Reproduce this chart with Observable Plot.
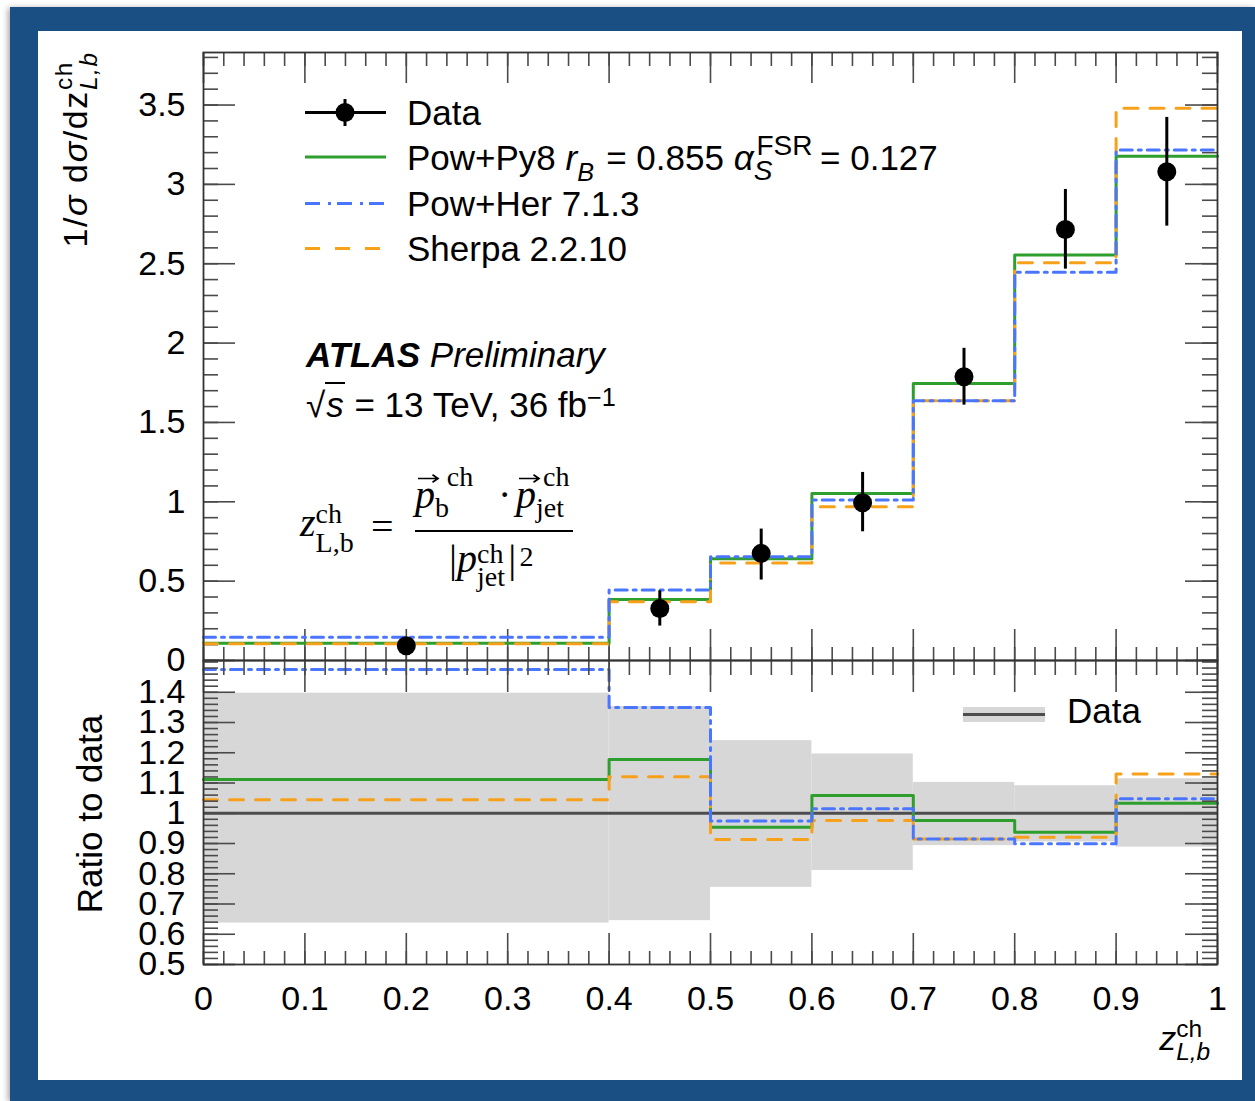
<!DOCTYPE html>
<html>
<head>
<meta charset="utf-8">
<script src="https://cdn.jsdelivr.net/npm/d3@7"></script>
<script src="https://cdn.jsdelivr.net/npm/@observablehq/plot@0.6"></script>
<style>
  html, body { margin:0; padding:0; background:#fff; }
  #page { position:relative; width:1255px; height:1101px; overflow:hidden; font-family:"Liberation Sans", Arial, Helvetica, sans-serif; color:#000; }
  #frame { position:absolute; left:10px; top:7px; width:1245px; height:1094px; background:#1a4f84; box-shadow:-2px 1px 6px rgba(0,0,0,0.35); }
  #panel { position:absolute; left:38px; top:31px; width:1204px; height:1049px; background:#fff; }
  .pw { position:absolute; left:40px; width:1198px; }
  .t { position:absolute; white-space:nowrap; line-height:1; }
  .serif { font-family:"Liberation Serif", "Times New Roman", serif; }
  .scr { display:inline-block; position:relative; height:0.7em; vertical-align:baseline; }
  .scr > span { position:absolute; left:0; line-height:0.8; white-space:nowrap; }
  .vec { position:relative; display:inline-block; }
  .vec svg { position:absolute; left:0.08em; top:-0.04em; overflow:visible; }
  .rot { position:absolute; white-space:nowrap; line-height:1; transform:translate(-50%,-50%) rotate(-90deg); }
</style>
</head>
<body>
<div id="page">
  <div id="frame"></div>
  <div id="panel"></div>
</div>
<script>
// ---------------- data ----------------
const binLo = [0, 0.4, 0.5, 0.6, 0.7, 0.8, 0.9];
const binHi = [0.4, 0.5, 0.6, 0.7, 0.8, 0.9, 1.0];

const dataVal  = [0.093, 0.328, 0.675, 0.994, 1.788, 2.716, 3.080];
const dataLow  = [0.058, 0.217, 0.507, 0.811, 1.609, 2.466, 2.737];
const dataHigh = [0.128, 0.439, 0.828, 1.185, 1.967, 2.968, 3.422];

const powPy8 = [0.108, 0.385, 0.641, 1.053, 1.746, 2.555, 3.178];
const powHer = [0.146, 0.444, 0.653, 1.011, 1.636, 2.447, 3.216];
const sherpa = [0.105, 0.370, 0.614, 0.969, 1.636, 2.506, 3.479];

const ratioPowPy8 = [1.112, 1.178, 0.954, 1.059, 0.976, 0.937, 1.033];
const ratioPowHer = [1.475, 1.350, 0.974, 1.015, 0.915, 0.899, 1.048];
const ratioSherpa = [1.045, 1.121, 0.913, 0.976, 0.915, 0.921, 1.130];
const bandLow  = [0.637, 0.645, 0.755, 0.811, 0.893, 0.905, 0.888];
const bandHigh = [1.397, 1.353, 1.240, 1.196, 1.102, 1.091, 1.114];

const xTickLabels = [0, 0.1, 0.2, 0.3, 0.4, 0.5, 0.6, 0.7, 0.8, 0.9, 1];
const yTickLabelsUpper = [0, 0.5, 1, 1.5, 2, 2.5, 3, 3.5];
const yTickLabelsRatio = [0.5, 0.6, 0.7, 0.8, 0.9, 1, 1.1, 1.2, 1.3, 1.4];

// ---------------- style ----------------
const FONT = '"Liberation Sans", Arial, Helvetica, sans-serif';
const GREEN = "#2e9e2e", BLUE = "#4a76ff", ORANGE = "#f7a11a";
const DASH_BLUE = "12,6,3,6", DASH_ORANGE = "14,12";
const TICK = "#4a4a4a";
const fmt = d => String(+(+d).toFixed(2));
const rnd = v => +v.toFixed(3);

const xMinor = d3.range(0, 51).map(i => rnd(i * 0.02));
const yMinorUpper = d3.range(0, 39).map(i => rnd(i * 0.1));
const yMinorRatio = d3.range(0, 51).map(i => rnd(0.5 + i * 0.02));

const PW = 1014;           // plot frame width (px)
const PH_UP = 608, PH_LO = 304;

function frameTicks(xMaj, xMin, yMaj, yMin, ph, L) {
  const st = {stroke: TICK, strokeWidth: 1.6};
  return [
    Plot.tickX(xMin, {x: d => d, insetBottom: ph - L.xMinTop, ...st}),
    Plot.tickX(xMaj, {x: d => d, insetBottom: ph - L.xMajTop, ...st}),
    Plot.tickX(xMin, {x: d => d, insetTop: ph - L.xMinBot, ...st}),
    Plot.tickX(xMaj, {x: d => d, insetTop: ph - L.xMajBot, ...st}),
    Plot.tickY(yMin, {y: d => d, insetRight: PW - L.yMin, ...st}),
    Plot.tickY(yMaj, {y: d => d, insetRight: PW - L.yMaj, ...st}),
    Plot.tickY(yMin, {y: d => d, insetLeft: PW - L.yMin, ...st}),
    Plot.tickY(yMaj, {y: d => d, insetLeft: PW - L.yMaj, ...st})
  ];
}

const steps = vals => binLo.map((x, i) => ({x, y: vals[i]}))
  .concat([{x: binHi[binHi.length - 1], y: vals[vals.length - 1]}]);

const points = binLo.map((lo, i) => ({
  x: (lo + binHi[i]) / 2, y: dataVal[i], y1: dataLow[i], y2: dataHigh[i]
}));
const bands = binLo.map((lo, i) => ({x1: lo, x2: binHi[i], y1: bandLow[i], y2: bandHigh[i]}));

const lineOpts = (stroke, dash) => ({x: "x", y: "y", curve: "step-after", stroke, strokeWidth: 3, strokeDasharray: dash});

// ---------------- upper panel ----------------
const upper = Plot.plot({
  width: 1198, height: 630,
  marginLeft: 163, marginRight: 21, marginTop: 20, marginBottom: 2,
  style: {fontFamily: FONT, fontSize: "34px", background: "transparent", color: "black", overflow: "visible"},
  x: {domain: [0, 1], axis: null},
  y: {domain: [0, 3.831], ticks: yTickLabelsUpper, tickSize: 0, tickPadding: 18, tickFormat: fmt, label: null},
  marks: [
    ...frameTicks(xTickLabels, xMinor, yTickLabelsUpper, yMinorUpper, PH_UP,
      {xMajTop: 31, xMinTop: 14, xMajBot: 31, xMinBot: 13, yMaj: 32, yMin: 15}),
    Plot.line(steps(powPy8), lineOpts(GREEN)),
    Plot.line(steps(sherpa), lineOpts(ORANGE, DASH_ORANGE)),
    Plot.line(steps(powHer), lineOpts(BLUE, DASH_BLUE)),
    Plot.ruleX(points, {x: "x", y1: "y1", y2: "y2", stroke: "black", strokeWidth: 3}),
    Plot.dot(points, {x: "x", y: "y", r: 9.5, fill: "black", stroke: "none"}),
    Plot.frame({stroke: "#333", strokeWidth: 1.8})
  ]
});

// ---------------- ratio panel ----------------
const lower = Plot.plot({
  width: 1198, height: 370,
  marginLeft: 163, marginRight: 21, marginTop: 2, marginBottom: 64,
  style: {fontFamily: FONT, fontSize: "34px", background: "transparent", color: "black", overflow: "visible"},
  x: {domain: [0, 1], ticks: xTickLabels, tickSize: 0, tickPadding: 21, tickFormat: fmt, label: null},
  y: {domain: [0.5, 1.505], ticks: yTickLabelsRatio, tickSize: 0, tickPadding: 18, tickFormat: fmt, label: null},
  marks: [
    Plot.rect(bands, {x1: "x1", x2: "x2", y1: "y1", y2: "y2", fill: "#d7d7d7"}),
    Plot.ruleY([1], {stroke: "#4d4d4d", strokeWidth: 3}),
    Plot.line(steps(ratioPowPy8), lineOpts(GREEN)),
    Plot.line(steps(ratioSherpa), lineOpts(ORANGE, DASH_ORANGE)),
    Plot.line(steps(ratioPowHer), lineOpts(BLUE, DASH_BLUE)),
    ...frameTicks(xTickLabels, xMinor, yTickLabelsRatio, yMinorRatio, PH_LO,
      {xMajTop: 32, xMinTop: 15, xMajBot: 31, xMinBot: 13, yMaj: 32, yMin: 15}),
    Plot.frame({stroke: "#333", strokeWidth: 1.8})
  ]
});

const page = document.getElementById("page");
function wrap(svg, top) {
  const d = document.createElement("div");
  d.className = "pw"; d.style.top = top + "px";
  d.appendChild(svg); page.appendChild(d);
}
wrap(upper, 32);
wrap(lower, 658);

// ---------------- text helpers ----------------
// stacked super/subscript block (both start at the same x, like ROOT's TLatex)
function scripts(up, dn, w, raise = 0.4, lower = 0.28, scale = 0.72, k = 0.85, upShift = 0) {
  const ks = k - 0.1; // script spans use line-height 0.8
  const upTop = (0.7 - raise - ks * scale) / scale;
  const dnTop = (0.7 + lower - ks * scale) / scale;
  let s = `<span class="scr" style="width:${w}em">`;
  if (up) s += `<span style="top:${upTop}em;left:${upShift}em;font-size:${scale}em">${up}</span>`;
  if (dn) s += `<span style="top:${dnTop}em;font-size:${scale}em">${dn}</span>`;
  return s + `</span>`;
}
function addText(html, x, baseline, size, cls = "t", k = 0.85) {
  const d = document.createElement("div");
  d.className = cls;
  d.innerHTML = html;
  d.style.left = x + "px";
  d.style.top = (baseline - k * size) + "px";
  d.style.fontSize = size + "px";
  page.appendChild(d);
  return d;
}
function addRot(html, cx, cy, size, spacing = 0) {
  const d = document.createElement("div");
  d.className = "rot";
  d.innerHTML = html;
  d.style.left = cx + "px"; d.style.top = cy + "px"; d.style.fontSize = size + "px";
  d.style.letterSpacing = spacing + "px";
  page.appendChild(d);
  return d;
}
const arrow = `<svg width="21" height="9" viewBox="0 0 21 9"><path d="M0,4.5H20M14.5,0.8L20,4.5L14.5,8.2" fill="none" stroke="#000" stroke-width="1.7"/></svg>`;
const vecP = `<span class="vec"><i>p</i>${arrow}</span>`;

// axis titles
addRot(`1/<i>σ</i> d<i>σ</i>/dz${scripts("ch", "<i>L,b</i>", 1.05, 0.42, 0.3)}`, 75, 151, 34, 1.6);
addRot(`Ratio to data`, 89, 814, 35);
const xt = addText(`<i>z</i>${scripts("ch", "<i>L,b</i>", 1.2, 0.38, 0.3)}`, 0, 1050, 34);
xt.style.left = "auto"; xt.style.right = (1255 - 1217) + "px";

// legend (upper)
addText(`Data`, 407, 125, 35);
addText(`Pow+Py8 <i>r</i>${scripts(null, "<i>B</i>", 0.55, 0, 0.3)} = 0.855 <i>α</i>${scripts("FSR", "<i>S</i>", 1.62, 0.42, 0.32, 0.8, 0.85, 0.1)} = 0.127`, 407, 170, 35);
addText(`Pow+Her 7.1.3`, 407, 216, 35);
addText(`Sherpa 2.2.10`, 407, 261, 35);

// ATLAS label
addText(`<b><i>ATLAS</i></b> <i>Preliminary</i>`, 306, 367, 35);
addText(`√<span style="border-top:2.5px solid #000;font-style:italic;padding:1px 1px 0 1px">s</span> = 13 TeV, 36 fb<span style="position:relative;top:-0.45em;font-size:0.72em">−1</span>`, 306, 417, 35);

// formula
const fs = 40, K = 0.84;
addText(`<i>z</i>${scripts("ch", "L,b", 0.95, 0.32, 0.4, 0.7, K)}`, 300, 537, fs, "t serif", K);
addText(`=`, 371, 541, fs, "t serif", K);
addText(`${vecP}${scripts("ch", "b", 1.0, 0.55, 0.24, 0.7, K, 0.42)}`, 415, 509, fs, "t serif", K);
addText(`·`, 498, 509, fs, "t serif", K);
addText(`${vecP}${scripts("ch", "jet", 0.9, 0.55, 0.24, 0.7, K, 0.25)}`, 516, 509, fs, "t serif", K);
const bar = document.createElement("div");
Object.assign(bar.style, {position: "absolute", left: "415px", top: "530px", width: "158px", height: "2px", background: "#000"});
page.appendChild(bar);
addText(`|<i>p</i>${scripts("ch", "jet", 0.78, 0.22, 0.36, 0.7, K)}|<span style="position:relative;top:-0.22em;font-size:0.7em;margin-left:0.12em">2</span>`, 449, 573, fs, "t serif", K);

// ratio legend
addText(`Data`, 1067, 723, 35);

// legend swatches
const ns = "http://www.w3.org/2000/svg";
const sw = document.createElementNS(ns, "svg");
sw.setAttribute("width", 1255); sw.setAttribute("height", 1101);
sw.style.position = "absolute"; sw.style.left = "0"; sw.style.top = "0"; sw.style.pointerEvents = "none";
sw.innerHTML = `
  <line x1="305" x2="386" y1="112.5" y2="112.5" stroke="black" stroke-width="3"/>
  <line x1="345" x2="345" y1="99" y2="126" stroke="black" stroke-width="3"/>
  <circle cx="345" cy="112.5" r="9.5" fill="black"/>
  <line x1="305" x2="386" y1="157" y2="157" stroke="${GREEN}" stroke-width="3"/>
  <line x1="305" x2="386" y1="203.5" y2="203.5" stroke="${BLUE}" stroke-width="3" stroke-dasharray="15,8,3,6"/>
  <line x1="305" x2="386" y1="248.5" y2="248.5" stroke="${ORANGE}" stroke-width="3" stroke-dasharray="15,15"/>
  <rect x="963" y="707" width="82" height="15" fill="#d7d7d7"/>
  <line x1="963" x2="1045" y1="714.5" y2="714.5" stroke="#4d4d4d" stroke-width="3"/>
`;
page.appendChild(sw);
</script>
</body>
</html>
